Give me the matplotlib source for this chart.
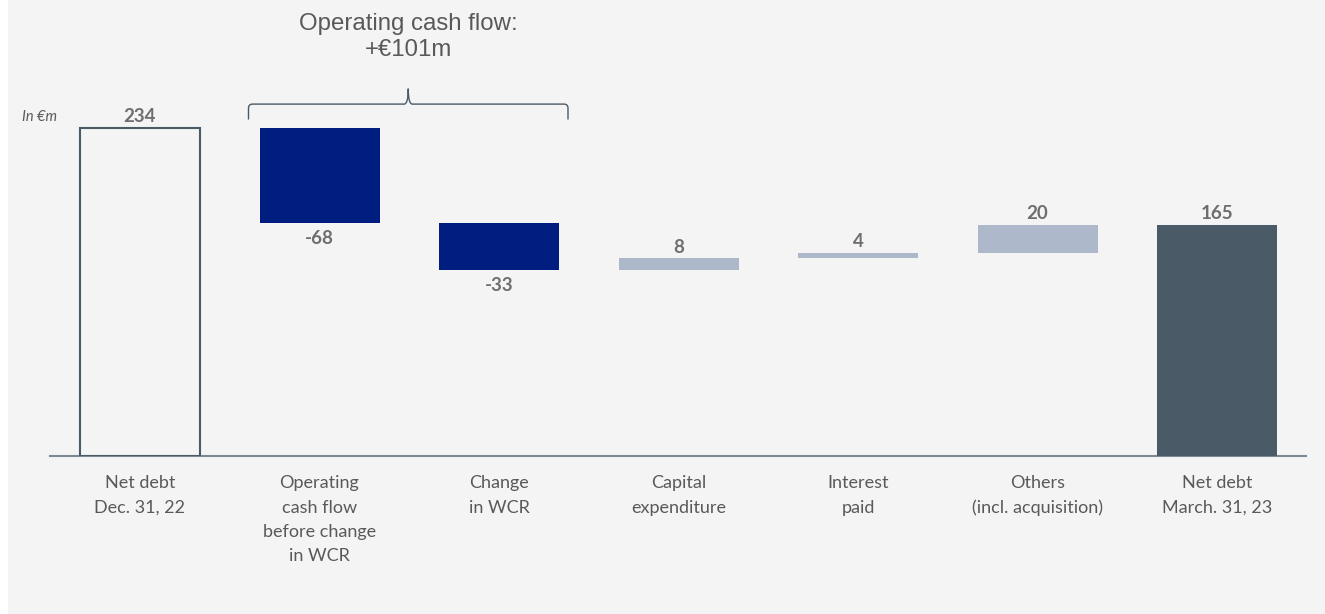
import matplotlib.pyplot as plt
from matplotlib.patches import Rectangle
from matplotlib.path import Path
from matplotlib.patches import PathPatch

categories = ['Net debt\nDec. 31, 22', 'Operating\ncash flow\nbefore change\nin WCR',
              'Change\nin WCR', 'Capital\nexpenditure', 'Interest\npaid',
              'Others\n(incl. acquisition)', 'Net debt\nMarch. 31, 23']
start_value = 234
changes = [-68, -33, 8, 4, 20]
end_value = 165
labels = ['234', '-68', '-33', '8', '4', '20', '165']

bg = '#f4f4f4'
navy = '#001e80'
light = '#adb8ca'
dark = '#4a5a66'
txt = '#595959'
valtxt = '#6e6e6e'

fig = plt.figure(figsize=(13.25, 6.14), dpi=100)
fig.patches.append(Rectangle((8 / 1325, 0), 1, 1, transform=fig.transFigure,
                             facecolor=bg, edgecolor='none', zorder=-10))

ax = fig.add_axes([50 / 1325, 158 / 614, 1256 / 1325, 456 / 614])
ax.set_facecolor('none')
px_per_unit = 179.5
xmin = -90 / px_per_unit
ax.set_xlim(xmin, xmin + 1256 / px_per_unit)
ax.set_ylim(0, 456 / 1.402)
w = 120 / px_per_unit

# first bar: outlined
ax.bar(0, start_value, width=w, color=bg, edgecolor=dark, linewidth=1.5, zorder=3)
ax.text(0, start_value + 2, labels[0], ha='center', va='bottom', fontsize=13.5,
        fontweight='bold', color=valtxt, family='Lato')

running = start_value
for i, ch in enumerate(changes, start=1):
    lo = min(running, running + ch)
    col = navy if ch < 0 else light
    ax.bar(i, abs(ch), bottom=lo, width=w, color=col, edgecolor='none', zorder=3)
    if ch < 0:
        ax.text(i, lo - 5, labels[i], ha='center', va='top', fontsize=13.5,
                fontweight='bold', color=valtxt, family='Lato')
    else:
        ax.text(i, lo + abs(ch) + 2, labels[i], ha='center', va='bottom', fontsize=13.5,
                fontweight='bold', color=valtxt, family='Lato')
    running += ch

n = len(categories) - 1
ax.bar(n, end_value, width=w, color=dark, edgecolor='none', zorder=3)
ax.text(n, end_value + 2, labels[n], ha='center', va='bottom', fontsize=13.5,
        fontweight='bold', color=valtxt, family='Lato')

for s in ['top', 'right', 'left']:
    ax.spines[s].set_visible(False)
ax.spines['bottom'].set_color('#7d8a94')
ax.spines['bottom'].set_linewidth(1.5)
ax.set_yticks([])
ax.set_xticks(range(len(categories)))
ax.set_xticklabels(categories, fontsize=13, color=txt, family='Lato', linespacing=1.62)
ax.tick_params(axis='x', length=0, pad=14)

ax.text(xmin - 28 / px_per_unit, start_value + 3, 'In €m', ha='left', va='bottom',
        fontsize=10.5, style='italic', color=txt, family='Lato', clip_on=False)

# brace over operating cash flow bars
x0 = 1 - w / 2 - 11 / px_per_unit
x1 = 2 + w / 2 + 9 / px_per_unit
xm = (x0 + x1) / 2
yb = start_value + 6
yt = start_value + 17
ytop = yt + 11
r = 4 / px_per_unit
verts = [(x0, yb), (x0, yt - 3), (x0, yt), (x0 + r, yt),
         (xm - r, yt), (xm, yt), (xm, ytop),
         (xm, yt), (xm + r, yt),
         (x1 - r, yt), (x1, yt), (x1, yt - 3), (x1, yb)]
codes = [Path.MOVETO, Path.LINETO, Path.CURVE3, Path.CURVE3,
         Path.LINETO, Path.CURVE3, Path.CURVE3,
         Path.CURVE3, Path.CURVE3,
         Path.LINETO, Path.CURVE3, Path.CURVE3, Path.LINETO]
ax.add_patch(PathPatch(Path(verts, codes), facecolor='none', edgecolor=dark,
                       linewidth=1.0, clip_on=False))
ax.text(xm, ytop + 20, 'Operating cash flow:\n+€101m', ha='center', va='bottom',
        fontsize=17.3, color=txt, family='Liberation Sans', linespacing=1.2, clip_on=False)

fig.savefig('out.png', dpi=100)
